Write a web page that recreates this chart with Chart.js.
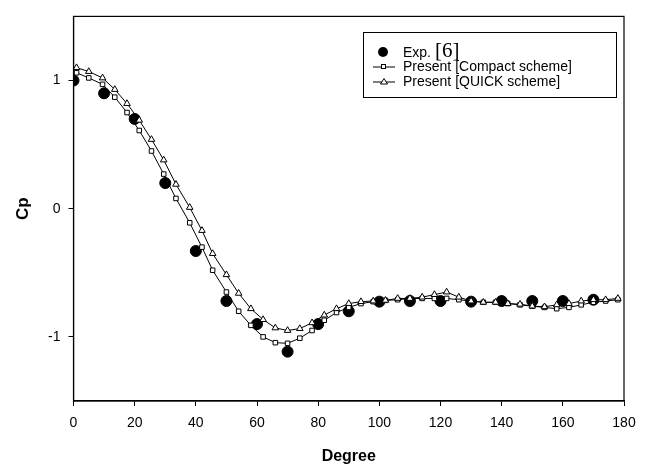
<!DOCTYPE html>
<html>
<head>
<meta charset="utf-8">
<script src="https://cdn.jsdelivr.net/npm/chart.js@4.4.0/dist/chart.umd.min.js"></script>
<style>
  html, body { margin: 0; padding: 0; background: #fff; }
  #wrap { width: 653px; height: 466px; }
</style>
</head>
<body>
<div id="wrap"><canvas id="cp-chart" width="653" height="466"></canvas></div>
<script>
// Values
const expDeg = [0, 10, 20, 30, 40, 50, 60, 70, 80, 90, 100, 110, 120, 130, 140, 150, 160, 170];
const expCp = [1.0, 0.90, 0.70, 0.20, -0.33, -0.72, -0.90, -1.115, -0.90, -0.80, -0.725, -0.72, -0.72, -0.725, -0.72, -0.72, -0.72, -0.71];

const simDeg = [1, 5, 9.5, 13.5, 17.5, 21.5, 25.5, 29.5, 33.5, 38, 42, 45.5, 50, 54, 58, 62, 66, 70, 74, 78,
    82, 86, 90, 94, 98, 102, 106, 110, 114, 118, 122, 126, 130, 134, 138, 142, 146, 150, 154, 158,
    162, 166, 170, 174, 178];
const compactCp = [1.06, 1.02, 0.97, 0.87, 0.75, 0.61, 0.45, 0.27, 0.08, -0.11, -0.30, -0.48, -0.65, -0.80, -0.91, -1.00, -1.045, -1.05, -1.01, -0.95,
    -0.87, -0.81, -0.77, -0.74, -0.725, -0.715, -0.71, -0.70, -0.70, -0.70, -0.70, -0.71, -0.72, -0.73, -0.73, -0.74, -0.75, -0.76, -0.77, -0.78,
    -0.77, -0.75, -0.73, -0.72, -0.71];
const quickCp = [1.10, 1.07, 1.02, 0.93, 0.82, 0.69, 0.54, 0.38, 0.19, 0.01, -0.17, -0.35, -0.515, -0.66, -0.78, -0.865, -0.93, -0.95, -0.935, -0.89,
    -0.83, -0.78, -0.74, -0.725, -0.72, -0.715, -0.70, -0.70, -0.69, -0.67, -0.65, -0.69, -0.72, -0.73, -0.73, -0.74, -0.745, -0.76, -0.765, -0.75,
    -0.74, -0.72, -0.71, -0.71, -0.70];

const xTicks = [0, 20, 40, 60, 80, 100, 120, 140, 160, 180];
const yTicks = [-1, 0, 1];

const toPoints = (xs, ys) => xs.map((x, i) => ({ x: x, y: ys[i] }));

// frame on all four sides of the plot area
const framePlugin = {
    id: 'frame',
    afterDraw(chart) {
        const { ctx, chartArea: a } = chart;
        ctx.save();
        ctx.strokeStyle = '#000';
        ctx.lineWidth = 1.2;
        ctx.strokeRect(a.left, a.top, a.right - a.left, a.bottom - a.top);
        ctx.restore();
    }
};

// legend box, drawn by hand because of the serif "[6]"
const legendPlugin = {
    id: 'boxLegend',
    afterDraw(chart) {
        const ctx = chart.ctx;
        ctx.save();
        ctx.strokeStyle = '#000';
        ctx.lineWidth = 1;
        ctx.strokeRect(363.5, 32.5, 253, 65);

        ctx.fillStyle = '#000';
        ctx.textBaseline = 'middle';
        ctx.font = '14px "Liberation Sans", Arial, sans-serif';

        // Exp.
        ctx.beginPath();
        ctx.arc(383, 52, 5, 0, Math.PI * 2);
        ctx.fill();
        ctx.fillText('Exp.', 403, 53);
        const w = ctx.measureText('Exp. ').width;
        ctx.font = '21px "Liberation Serif", "Times New Roman", serif';
        ctx.fillText('[6]', 403 + w, 51);

        ctx.font = '14px "Liberation Sans", Arial, sans-serif';
        // compact
        ctx.beginPath();
        ctx.moveTo(373, 67); ctx.lineTo(395, 67); ctx.stroke();
        ctx.fillStyle = '#fff';
        ctx.fillRect(381, 64.5, 5, 5);
        ctx.strokeRect(381.5, 64.5, 4, 4);
        ctx.fillStyle = '#000';
        ctx.fillText('Present [Compact scheme]', 403, 67);

        // quick
        ctx.beginPath();
        ctx.moveTo(373, 82); ctx.lineTo(395, 82); ctx.stroke();
        ctx.fillStyle = '#fff';
        ctx.beginPath();
        ctx.moveTo(384, 78.5); ctx.lineTo(387.5, 84); ctx.lineTo(380.5, 84); ctx.closePath();
        ctx.fill(); ctx.stroke();
        ctx.fillStyle = '#000';
        ctx.fillText('Present [QUICK scheme]', 403, 82);
        ctx.restore();
    }
};

const tickFont = { family: '"Liberation Sans", Arial, sans-serif', size: 14 };

new Chart(document.getElementById('cp-chart'), {
    type: 'scatter',
    data: {
        datasets: [
            {
                label: 'Present [QUICK scheme]',
                data: toPoints(simDeg, quickCp),
                showLine: true,
                borderColor: '#000',
                borderWidth: 1,
                pointStyle: 'triangle',
                pointRadius: 3.8,
                pointBackgroundColor: '#fff',
                pointBorderColor: '#000',
                pointBorderWidth: 1
            },
            {
                label: 'Present [Compact scheme]',
                data: toPoints(simDeg, compactCp),
                showLine: true,
                borderColor: '#000',
                borderWidth: 1,
                pointStyle: 'rect',
                pointRadius: 3.2,
                pointBackgroundColor: '#fff',
                pointBorderColor: '#000',
                pointBorderWidth: 1
            },
            {
                label: 'Exp. [6]',
                data: toPoints(expDeg, expCp),
                showLine: false,
                pointStyle: 'circle',
                pointRadius: 5.5,
                pointBackgroundColor: '#000',
                pointBorderColor: '#000'
            }
        ]
    },
    options: {
        responsive: false,
        animation: false,
        layout: { padding: { top: 10, right: 29, left: 0, bottom: 0 } },
        plugins: {
            legend: { display: false },
            tooltip: { enabled: false }
        },
        scales: {
            x: {
                type: 'linear',
                min: 0,
                max: 180,
                afterBuildTicks: (scale) => { scale.ticks = xTicks.map(v => ({ value: v })); },
                afterFit: (scale) => { scale.height = 65; },
                ticks: { color: '#000', font: tickFont, padding: 9, maxRotation: 0 },
                grid: { drawOnChartArea: false, tickLength: 5, tickColor: '#000', color: '#000' },
                border: { color: '#000', width: 1.2 },
                title: {
                    display: true,
                    text: 'Degree',
                    color: '#000',
                    font: { family: '"Liberation Sans", Arial, sans-serif', size: 16, weight: 'bold' },
                    padding: { top: 0, bottom: 0 }
                }
            },
            y: {
                type: 'linear',
                min: -1.5,
                max: 1.5,
                afterBuildTicks: (scale) => { scale.ticks = yTicks.map(v => ({ value: v })); },
                afterFit: (scale) => { scale.width = 73.5; },
                ticks: { color: '#000', font: tickFont, padding: 8 },
                grid: { drawOnChartArea: false, tickLength: 5, tickColor: '#000', color: '#000' },
                border: { color: '#000', width: 1.2 },
                title: {
                    display: true,
                    text: 'Cp',
                    color: '#000',
                    font: { family: '"Liberation Sans", Arial, sans-serif', size: 17, weight: 'bold' },
                    padding: { top: 13, bottom: 0 }
                }
            }
        }
    },
    plugins: [framePlugin, legendPlugin]
});
</script>
</body>
</html>
